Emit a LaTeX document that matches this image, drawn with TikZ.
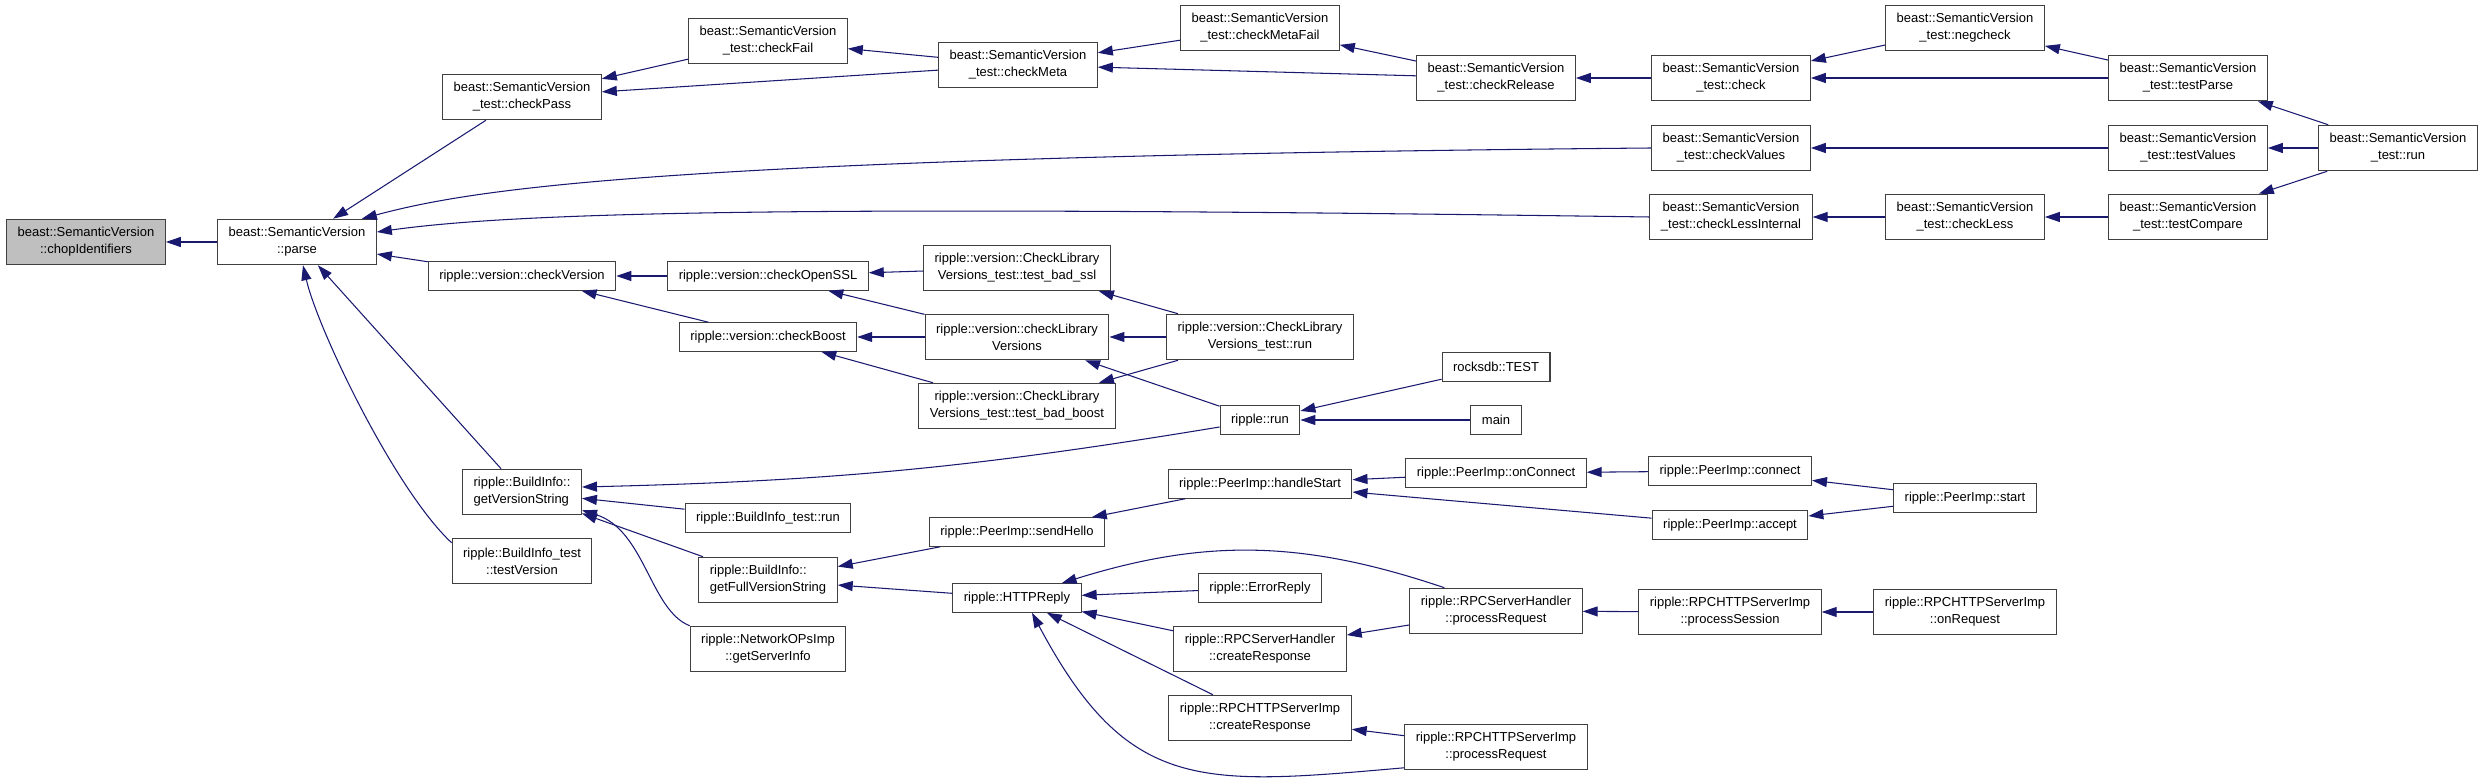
\documentclass[tikz,border=0pt]{standalone}
\usepackage{fontspec}
\setmainfont{Liberation Sans}
\usepackage{tikz}
\usetikzlibrary{arrows.meta}
\definecolor{midnight}{HTML}{191970}
\definecolor{rootgray}{HTML}{BFBFBF}
\definecolor{boxline}{HTML}{404040}

\begin{document}
\begin{tikzpicture}[
  x=0.02cm, y=-0.02cm,
  func/.style={draw=boxline, fill=white, line width=0.6pt, align=center,
               font=\fontsize{7.4}{9.6}\selectfont, inner xsep=0.22cm, inner ysep=0.08cm,
               minimum height=0.57cm},
  func2/.style={func, minimum height=0.91cm},
  root/.style={func2, fill=rootgray},
  call/.style={-{Triangle[length=0.3cm,width=0.2cm]}, line width=0.6pt, draw=midnight}
]
  \useasboundingbox (0,0) rectangle (2485,783);

  \node[root] (chop) at (86,242) {beast::SemanticVersion\\::chopIdentifiers};
  \node[func2] (parse) at (297,242) {beast::SemanticVersion\\::parse};

  \node[func2] (checkPass) at (522,97) {beast::SemanticVersion\\\_test::checkPass};
  \node[func2] (checkFail) at (768,41) {beast::SemanticVersion\\\_test::checkFail};
  \node[func2] (checkMeta) at (1018,65) {beast::SemanticVersion\\\_test::checkMeta};
  \node[func2] (metaFail) at (1260,28) {beast::SemanticVersion\\\_test::checkMetaFail};
  \node[func2] (release) at (1496,78) {beast::SemanticVersion\\\_test::checkRelease};
  \node[func2] (check) at (1731,78) {beast::SemanticVersion\\\_test::check};
  \node[func2] (negcheck) at (1965,28) {beast::SemanticVersion\\\_test::negcheck};
  \node[func2] (testParse) at (2188,78) {beast::SemanticVersion\\\_test::testParse};
  \node[func2] (semRun) at (2398,148) {beast::SemanticVersion\\\_test::run};
  \node[func2] (checkValues) at (1731,148) {beast::SemanticVersion\\\_test::checkValues};
  \node[func2] (testValues) at (2188,148) {beast::SemanticVersion\\\_test::testValues};
  \node[func2] (lessInternal) at (1731,217) {beast::SemanticVersion\\\_test::checkLessInternal};
  \node[func2] (checkLess) at (1965,217) {beast::SemanticVersion\\\_test::checkLess};
  \node[func2] (testCompare) at (2188,217) {beast::SemanticVersion\\\_test::testCompare};

  \node[func] (checkVersion) at (522,276) {ripple::version::checkVersion};
  \node[func] (checkSSL) at (768,276) {ripple::version::checkOpenSSL};
  \node[func] (checkBoost) at (768,337) {ripple::version::checkBoost};
  \node[func2] (badSsl) at (1017,268) {ripple::version::CheckLibrary\\Versions\_test::test\_bad\_ssl};
  \node[func2] (libVersions) at (1017,337) {ripple::version::checkLibrary\\Versions};
  \node[func2] (badBoost) at (1017,406) {ripple::version::CheckLibrary\\Versions\_test::test\_bad\_boost};
  \node[func2] (libRun) at (1260,337) {ripple::version::CheckLibrary\\Versions\_test::run};
  \node[func] (rocksTest) at (1496,367) {rocksdb::TEST};
  \node[func] (rippleRun) at (1260,420) {ripple::run};
  \node[func] (mainFn) at (1496,420) {main};

  \node[func2, align=left] (buildStr) at (522,492) {ripple::BuildInfo::\\getVersionString};
  \node[func] (buildRun) at (768,518) {ripple::BuildInfo\_test::run};
  \node[func2] (testVersion) at (522,561) {ripple::BuildInfo\_test\\::testVersion};
  \node[func2, align=left] (fullStr) at (768,580) {ripple::BuildInfo::\\getFullVersionString};
  \node[func2] (serverInfo) at (768,649) {ripple::NetworkOPsImp\\::getServerInfo};
  \node[func] (sendHello) at (1017,532) {ripple::PeerImp::sendHello};
  \node[func] (handleStart) at (1260,484) {ripple::PeerImp::handleStart};
  \node[func] (onConnect) at (1496,473) {ripple::PeerImp::onConnect};
  \node[func] (connect) at (1730,471) {ripple::PeerImp::connect};
  \node[func] (accept) at (1730,525) {ripple::PeerImp::accept};
  \node[func] (start) at (1965,498) {ripple::PeerImp::start};

  \node[func] (httpReply) at (1017,598) {ripple::HTTPReply};
  \node[func] (errorReply) at (1260,588) {ripple::ErrorReply};
  \node[func2] (rpcCreate) at (1260,649) {ripple::RPCServerHandler\\::createResponse};
  \node[func2] (httpCreate) at (1260,718) {ripple::RPCHTTPServerImp\\::createResponse};
  \node[func2] (rpcProcess) at (1496,611) {ripple::RPCServerHandler\\::processRequest};
  \node[func2] (httpProcess) at (1496,747) {ripple::RPCHTTPServerImp\\::processRequest};
  \node[func2] (session) at (1730,612) {ripple::RPCHTTPServerImp\\::processSession};
  \node[func2] (onRequest) at (1965,612) {ripple::RPCHTTPServerImp\\::onRequest};

  \foreach \a/\b in {parse/chop,checkPass/parse,checkVersion/parse,buildStr/parse,
      checkFail/checkPass,checkMeta/checkPass,checkMeta/checkFail,metaFail/checkMeta,
      release/checkMeta,release/metaFail,check/release,negcheck/check,testParse/check,
      testParse/negcheck,semRun/testParse,testValues/checkValues,semRun/testValues,
      checkLess/lessInternal,testCompare/checkLess,semRun/testCompare,
      checkSSL/checkVersion,checkBoost/checkVersion,badSsl/checkSSL,libVersions/checkSSL,
      libVersions/checkBoost,badBoost/checkBoost,libRun/badSsl,libRun/libVersions,
      libRun/badBoost,rippleRun/libVersions,rocksTest/rippleRun,mainFn/rippleRun,
      buildRun/buildStr,fullStr/buildStr,sendHello/fullStr,httpReply/fullStr,
      handleStart/sendHello,onConnect/handleStart,accept/handleStart,connect/onConnect,
      start/connect,start/accept,errorReply/httpReply,rpcCreate/httpReply,
      httpCreate/httpReply,rpcProcess/rpcCreate,httpProcess/httpCreate,
      session/rpcProcess,onRequest/session}
    \draw[call] (\a) -- (\b);

  \draw[call] (checkValues.west) .. controls (650,157) and (470,190) .. ([xshift=-0.3cm]parse.north east);
  \draw[call] (lessInternal.west) .. controls (800,205) and (520,212) .. ([yshift=0.2cm]parse.east);
  \draw[call] ([yshift=-0.1cm]testVersion.north west) .. controls (395,490) and (318,330) .. ([xshift=0.12cm]parse.south);
  \draw[call] ([yshift=-0.14cm]rippleRun.west) to[bend left=4] ([yshift=0.1cm]buildStr.east);
  \draw[call] (serverInfo.north west) .. controls (650,610) and (645,530) .. ([yshift=0.1cm]buildStr.south east);
  \draw[call] ([xshift=0.7cm]rpcProcess.north west) to[bend right=18] ([xshift=-0.4cm]httpReply.north east);
  \draw[call] ([yshift=0.05cm]httpProcess.south west) to[out=185, in=-62, looseness=1.3] ([xshift=0.3cm]httpReply.south);
\end{tikzpicture}
\end{document}
